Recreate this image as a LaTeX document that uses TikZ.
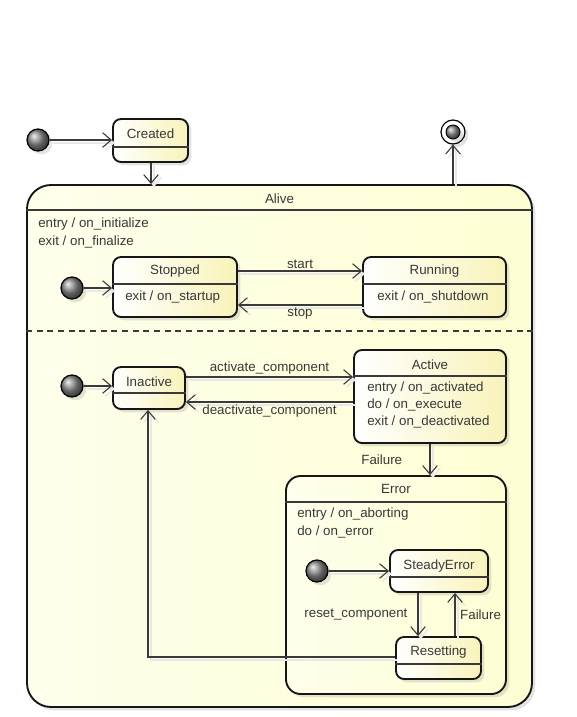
\documentclass[tikz,border=0pt]{standalone}
\usepackage{fontspec}
\setmainfont{Liberation Sans}
\usepackage{tikz}
\usetikzlibrary{arrows.meta,calc,fit,positioning,shadows}
\definecolor{stateline}{HTML}{161616}
\definecolor{statefill}{HTML}{F8F3BA}
\definecolor{regionfill}{HTML}{FEFED4}
\definecolor{transgray}{HTML}{3A3A3A}
\definecolor{textgray}{HTML}{383838}

\tikzset{
  every node/.style={font=\fontsize{10}{13}\selectfont, text=textgray},
  boxshadow/.style={drop shadow={shadow xshift=2.5pt, shadow yshift=-2.5pt, opacity=0.22}},
  statebox/.style={draw=stateline, line width=1.4pt, rounded corners=6pt, inner sep=0pt,
    left color=white, right color=statefill, boxshadow},
  regionbox/.style={draw=stateline, line width=1.4pt, inner sep=0pt,
    left color=regionfill!45!white, right color=regionfill, boxshadow},
  divider/.style={draw=stateline!85, line width=0.8pt},
  trans/.style={draw=transgray, line width=0.8pt, -{Straight Barb[length=6.5pt,width=11pt]},
    preaction={draw=black!9, line width=1.1pt, transform canvas={xshift=2.2pt,yshift=-2.2pt}}},
  initdot/.style={circle, draw=black, line width=0.9pt, minimum size=16.5pt, inner sep=0pt,
    shading=ball, ball color=black!45, boxshadow},
  finalring/.style={circle, draw=black, line width=0.9pt, minimum size=18pt, inner sep=0pt,
    fill=white, boxshadow},
  translabel/.style={inner sep=1.5pt},
}

\begin{document}
\begin{tikzpicture}[x=0.75pt, y=-0.75pt]
  \useasboundingbox (0,0) rectangle (577,717);

  % outer states
  \node[initdot] (initTop) at (38,140) {};
  \node[statebox, fit={(113,119) (188,162)}] (created) {};
  \node at (created.north |- 0,134) {Created};
  \draw[divider] (created.west |- 0,147) -- (created.east |- 0,147);

  \node[finalring] (final) at (453,132) {};
  \node[initdot, minimum size=10.5pt, line width=0.7pt, drop shadow={opacity=0}] at (final.center) {};

  \node[regionbox, rounded corners=18pt, fit={(27,185) (532,707)}] (alive) {};
  \node at (alive.north |- 0,199) {Alive};
  \draw[divider] (alive.west |- 0,210) -- (alive.east |- 0,210);
  \node[anchor=west, align=left, inner sep=0pt] at (38,233) {entry / on\_initialize\\exit / on\_finalize};
  \draw[divider, dash pattern=on 4.5pt off 3.5pt] (alive.west |- 0,331) -- (alive.east |- 0,331);

  \draw[trans] (initTop) -- (created.west |- initTop);
  \draw[trans] (created.south -| 151,0) -- (alive.north -| 151,0);
  \draw[trans] (alive.north -| final) -- (final);

  % first region
  \node[initdot] (initRun) at (72,288) {};
  \node[statebox, fit={(113,257) (237,317)}] (stopped) {};
  \node at (stopped.north |- 0,271) {Stopped};
  \draw[divider] (stopped.west |- 0,284) -- (stopped.east |- 0,284);
  \node[anchor=west, inner sep=0pt] at (125,297) {exit / on\_startup};

  \node[statebox, fit={(363,257) (506,317)}] (running) {};
  \node at (running.north |- 0,271) {Running};
  \draw[divider] (running.west |- 0,284) -- (running.east |- 0,284);
  \node[anchor=west, inner sep=0pt] at (377,297) {exit / on\_shutdown};

  \draw[trans] (initRun) -- (stopped.west |- initRun);
  \draw[trans] (stopped.east |- 0,271) -- (running.west |- 0,271) node[midway, above, translabel] {start};
  \draw[trans] (running.west |- 0,305) -- (stopped.east |- 0,305) node[midway, below, translabel] {stop};

  % second region
  \node[initdot] (initAct) at (72,386) {};
  \node[statebox, fit={(113,367) (185,409)}] (inactive) {};
  \node at (inactive.north |- 0,382) {Inactive};
  \draw[divider] (inactive.west |- 0,393) -- (inactive.east |- 0,393);

  \node[statebox, fit={(354,350) (506,443)}] (active) {};
  \node at (active.north |- 0,365) {Active};
  \draw[divider] (active.west |- 0,376) -- (active.east |- 0,376);
  \node[anchor=west, align=left, inner sep=0pt] at (367,405) {entry / on\_activated\\do / on\_execute\\exit / on\_deactivated};

  \draw[trans] (initAct) -- (inactive.west |- initAct);
  \draw[trans] (inactive.east |- 0,377) -- (active.west |- 0,377) node[midway, above, translabel] {activate\_component};
  \draw[trans] (active.west |- 0,402) -- (inactive.east |- 0,402) node[midway, below, translabel] {deactivate\_component};

  \node[regionbox, rounded corners=11pt, fit={(286,476) (506,694)}] (error) {};
  \node at (error.north |- 0,489) {Error};
  \draw[divider] (error.west |- 0,502) -- (error.east |- 0,502);
  \node[anchor=west, align=left, inner sep=0pt] at (297,523) {entry / on\_aborting\\do / on\_error};

  \draw[trans] (active.south -| 430,0) -- (error.north -| 430,0) node[midway, left=19pt, translabel] {Failure};

  \node[initdot] (initErr) at (317,571) {};
  \node[statebox, fit={(390,550) (488,592)}] (steady) {};
  \node at (steady.north |- 0,566) {SteadyError};
  \draw[divider] (steady.west |- 0,577) -- (steady.east |- 0,577);

  \node[statebox, fit={(396,637) (481,679)}] (resetting) {};
  \node at (resetting.north |- 0,652) {Resetting};
  \draw[divider] (resetting.west |- 0,664) -- (resetting.east |- 0,664);

  \draw[trans] (initErr) -- (steady.west |- initErr);
  \draw[trans] (steady.south -| 418,0) -- (resetting.north -| 418,0) node[midway, left=6pt, translabel] {reset\_component};
  \draw[trans] (resetting.north -| 455,0) -- (steady.south -| 455,0) node[midway, right=2pt, translabel] {Failure};
  \draw[trans] (resetting.west |- 0,657) -| (inactive.south -| 148,0);
\end{tikzpicture}
\end{document}
